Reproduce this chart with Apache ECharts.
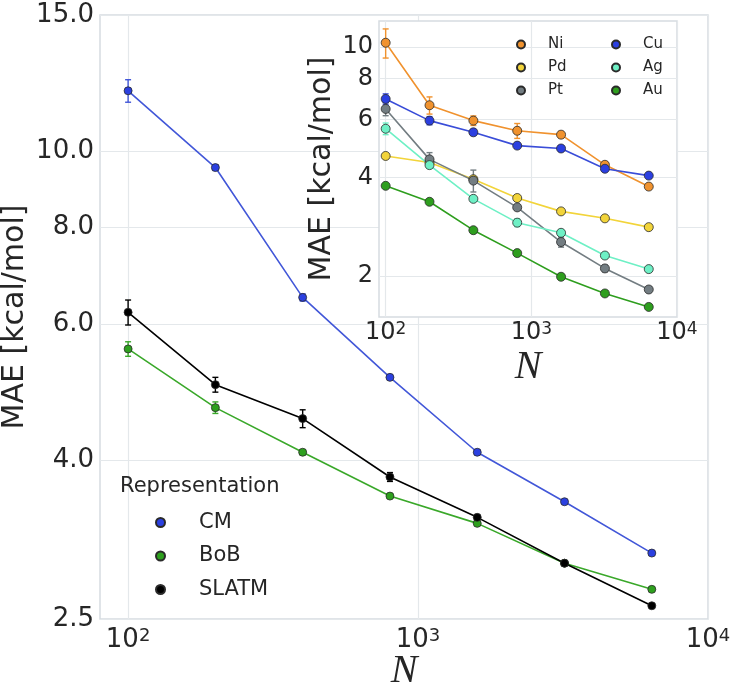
<!DOCTYPE html>
<html>
<head>
<meta charset="utf-8">
<title>MAE vs N</title>
<script src="https://cdn.jsdelivr.net/npm/echarts@6/dist/echarts.min.js"></script>
<style>
    html, body { margin: 0; padding: 0; background: #fff; }
    #chart { width: 732px; height: 685px; }
</style>
</head>
<body>
<div id="chart"></div>
<script>
// training set sizes
var sizes = [100, 200, 400, 800, 1600, 3200, 6400];

// main plot: representations
var cmMae = [11.98, 9.54, 6.49, 5.12, 4.10, 3.54, 3.04];
var cmErr = [0.40, 0.08, 0.07, 0.03, 0.03, 0.02, 0.02];
var bobMae = [5.57, 4.68, 4.10, 3.60, 3.32, 2.95, 2.73];
var bobErr = [0.12, 0.08, 0.03, 0.02, 0.02, 0.01, 0.01];
var slatmMae = [6.21, 5.01, 4.53, 3.81, 3.38, 2.95, 2.60];
var slatmErr = [0.23, 0.11, 0.12, 0.05, 0.02, 0.01, 0.01];

// inset: metals
var niMae = [10.3, 6.64, 5.96, 5.55, 5.40, 4.37, 3.75];
var niErr = [1.05, 0.40, 0.20, 0.29, 0.12, 0.08, 0.04];
var pdMae = [4.65, 4.44, 3.95, 3.46, 3.15, 3.00, 2.82];
var pdErr = [0.05, 0.04, 0.05, 0.04, 0.03, 0.02, 0.02];
var ptMae = [6.47, 4.54, 3.91, 3.24, 2.54, 2.11, 1.82];
var ptErr = [0.30, 0.22, 0.30, 0.06, 0.09, 0.05, 0.03];
var cuMae = [6.94, 5.96, 5.49, 5.00, 4.90, 4.25, 4.05];
var cuErr = [0.25, 0.17, 0.12, 0.05, 0.05, 0.05, 0.03];
var agMae = [5.63, 4.36, 3.44, 2.91, 2.71, 2.31, 2.10];
var agErr = [0.23, 0.10, 0.06, 0.08, 0.04, 0.03, 0.02];
var auMae = [3.77, 3.37, 2.76, 2.35, 1.99, 1.77, 1.61];
var auErr = [0.04, 0.03, 0.03, 0.02, 0.02, 0.01, 0.01];

// tick values
var mainYTicks = [2.5, 4, 6, 8, 10, 15];
var insetYTicks = [2, 4, 6, 8, 10];
var mainXTicks = [100, 1000, 10000];
var insetXTicks = [100, 1000, 10000];

var textColor = '#262626';
var gridColor = '#e4e8eb';
var frameColor = '#d6dce1';

/**
 * 10^n label with superscript
 */
var powLabel = function (v) {
    var e = Math.round(Math.log(v) / Math.LN10);
    return '{b|10}{s|' + e + '}';
};

var pairs = function (ys) {
    return sizes.map(function (n, i) { return [n, ys[i]]; });
};

var triples = function (ys, es) {
    return sizes.map(function (n, i) { return [n, ys[i], es[i]]; });
};

/**
 * line series with markers
 */
var lineSeries = function (name, ys, color, markColor, idx, size, z) {
    return {
        name: name,
        type: 'line',
        xAxisIndex: idx,
        yAxisIndex: idx,
        data: pairs(ys),
        symbol: 'circle',
        symbolSize: size,
        z: z,
        lineStyle: { color: color, width: 1.6 },
        itemStyle: { color: markColor, borderColor: '#2a2a2a', borderWidth: 0.8 },
        emphasis: { disabled: true },
        animation: false
    };
};

/**
 * vertical error bars with small caps
 */
var errSeries = function (ys, es, color, idx, z) {
    return {
        type: 'custom',
        xAxisIndex: idx,
        yAxisIndex: idx,
        data: triples(ys, es),
        z: z,
        silent: true,
        animation: false,
        renderItem: function (params, api) {
            var x = api.value(0), y = api.value(1), e = api.value(2);
            var hi = api.coord([x, y + e]);
            var lo = api.coord([x, y - e]);
            var cap = 3;
            var st = { stroke: color, lineWidth: 1.4 };
            return {
                type: 'group',
                children: [
                    { type: 'line', shape: { x1: hi[0], y1: hi[1], x2: lo[0], y2: lo[1] }, style: st },
                    { type: 'line', shape: { x1: hi[0] - cap, y1: hi[1], x2: hi[0] + cap, y2: hi[1] }, style: st },
                    { type: 'line', shape: { x1: lo[0] - cap, y1: lo[1], x2: lo[0] + cap, y2: lo[1] }, style: st }
                ]
            };
        }
    };
};

var chart = echarts.init(document.getElementById('chart'), null, { renderer: 'canvas' });

var option = {
    backgroundColor: '#fff',
    animation: false,
    title: {
        text: 'Representation',
        left: 115,
        top: 471,
        textStyle: { fontFamily: 'DejaVu Sans', fontSize: 21, fontWeight: 'normal', color: textColor }
    },
    legend: [{
        data: ['CM', 'BoB', 'SLATM'],
        orient: 'vertical',
        left: 150,
        top: 507,
        icon: 'circle',
        itemWidth: 9,
        itemHeight: 9,
        itemGap: 12.5,
        selectedMode: false,
        textStyle: { fontFamily: 'DejaVu Sans', fontSize: 21, color: textColor, padding: [0, 0, 0, 29] }
    }, {
        data: ['Ni', 'Pd', 'Pt'],
        orient: 'vertical',
        left: 511,
        top: 32,
        icon: 'circle',
        itemWidth: 8,
        itemHeight: 8,
        itemGap: 8,
        selectedMode: false,
        z: 10,
        textStyle: { fontFamily: 'DejaVu Sans', fontSize: 15, color: textColor, padding: [0, 0, 0, 18] }
    }, {
        data: ['Cu', 'Ag', 'Au'],
        orient: 'vertical',
        left: 606,
        top: 32,
        icon: 'circle',
        itemWidth: 8,
        itemHeight: 8,
        itemGap: 8,
        selectedMode: false,
        z: 10,
        textStyle: { fontFamily: 'DejaVu Sans', fontSize: 15, color: textColor, padding: [0, 0, 0, 18] }
    }],
    grid: [{
        left: 100, top: 15, right: 24, bottom: 66, outerBoundsMode: 'none', containLabel: false,
        show: true, backgroundColor: '#fff', borderColor: frameColor, borderWidth: 1.5
    }, {
        left: 379, top: 21, right: 55, bottom: 368, outerBoundsMode: 'none', containLabel: false,
        show: true, backgroundColor: '#fff', borderColor: frameColor, borderWidth: 1.5, z: 4
    }],
    xAxis: [{
        type: 'log', logBase: 10, gridIndex: 0, min: 80, max: 10000,
        name: 'N', nameLocation: 'middle', nameGap: 32, nameMoveOverlap: false,
        nameTextStyle: { fontFamily: 'Liberation Serif', fontStyle: 'italic', fontSize: 40, color: textColor },
        axisLine: { show: false },
        axisTick: { show: false, customValues: mainXTicks },
        splitLine: { show: true, lineStyle: { color: gridColor, width: 1.2 } },
        minorSplitLine: { show: false },
        axisLabel: {
            customValues: mainXTicks, margin: 8, formatter: powLabel,
            rich: {
                b: { fontFamily: 'DejaVu Sans', fontSize: 26, color: textColor },
                s: { fontFamily: 'DejaVu Sans', fontSize: 18, color: textColor, verticalAlign: 'top' }
            }
        }
    }, {
        type: 'log', logBase: 10, gridIndex: 1, min: 90, max: 10000, z: 5,
        name: 'N', nameLocation: 'middle', nameGap: 30, nameMoveOverlap: false,
        nameTextStyle: { fontFamily: 'Liberation Serif', fontStyle: 'italic', fontSize: 40, color: textColor },
        axisLine: { show: false },
        axisTick: { show: false, customValues: insetXTicks },
        splitLine: { show: true, lineStyle: { color: gridColor, width: 1.2 } },
        axisLabel: {
            customValues: insetXTicks, margin: 4, formatter: powLabel,
            rich: {
                b: { fontFamily: 'DejaVu Sans', fontSize: 24, color: textColor },
                s: { fontFamily: 'DejaVu Sans', fontSize: 17, color: textColor, verticalAlign: 'top' }
            }
        }
    }],
    yAxis: [{
        type: 'log', logBase: 10, gridIndex: 0, min: 2.5, max: 15,
        name: 'MAE [kcal/mol]', nameLocation: 'middle', nameGap: 70, nameMoveOverlap: false,
        nameTextStyle: { fontFamily: 'DejaVu Sans', fontSize: 30, color: textColor },
        axisLine: { show: false },
        axisTick: { show: false, customValues: mainYTicks },
        splitLine: { show: true, lineStyle: { color: gridColor, width: 1.2 } },
        axisLabel: {
            customValues: mainYTicks, margin: 6,
            fontFamily: 'DejaVu Sans', fontSize: 26, color: textColor,
            formatter: function (v) { return Number(v).toFixed(1); }
        }
    }, {
        type: 'log', logBase: 10, gridIndex: 1, min: 1.5, max: 12, z: 5,
        name: 'MAE [kcal/mol]', nameLocation: 'middle', nameGap: 42, nameMoveOverlap: false,
        nameTextStyle: { fontFamily: 'DejaVu Sans', fontSize: 30, color: textColor },
        axisLine: { show: false },
        axisTick: { show: false, customValues: insetYTicks },
        splitLine: { show: true, lineStyle: { color: gridColor, width: 1.2 } },
        axisLabel: {
            customValues: insetYTicks, margin: 6,
            fontFamily: 'DejaVu Sans', fontSize: 24, color: textColor,
            formatter: function (v) { return String(Math.round(v)); }
        }
    }],
    series: [
        errSeries(cmMae, cmErr, '#4257d8', 0, 2),
        errSeries(bobMae, bobErr, '#3aa82a', 0, 2),
        errSeries(slatmMae, slatmErr, '#000', 0, 2),
        lineSeries('CM', cmMae, '#4257d8', '#2b40e0', 0, 8, 3),
        lineSeries('BoB', bobMae, '#3aa82a', '#2ea01e', 0, 8, 3),
        lineSeries('SLATM', slatmMae, '#000', '#000', 0, 8, 3),

        errSeries(niMae, niErr, '#f0922e', 1, 6),
        errSeries(pdMae, pdErr, '#f2d43a', 1, 6),
        errSeries(ptMae, ptErr, '#737d82', 1, 6),
        errSeries(cuMae, cuErr, '#3447d6', 1, 6),
        errSeries(agMae, agErr, '#6ef0c5', 1, 6),
        errSeries(auMae, auErr, '#2e9e1e', 1, 6),
        lineSeries('Ni', niMae, '#f0922e', '#f0922e', 1, 9, 7),
        lineSeries('Pd', pdMae, '#f2d43a', '#f2d43a', 1, 9, 7),
        lineSeries('Pt', ptMae, '#737d82', '#737d82', 1, 9, 7),
        lineSeries('Cu', cuMae, '#3a4dd8', '#2b3fe0', 1, 9, 7),
        lineSeries('Ag', agMae, '#6ef0c5', '#6ef0c5', 1, 9, 7),
        lineSeries('Au', auMae, '#2e9e1e', '#2e9e1e', 1, 9, 7)
    ]
};

chart.setOption(option);
</script>
</body>
</html>
